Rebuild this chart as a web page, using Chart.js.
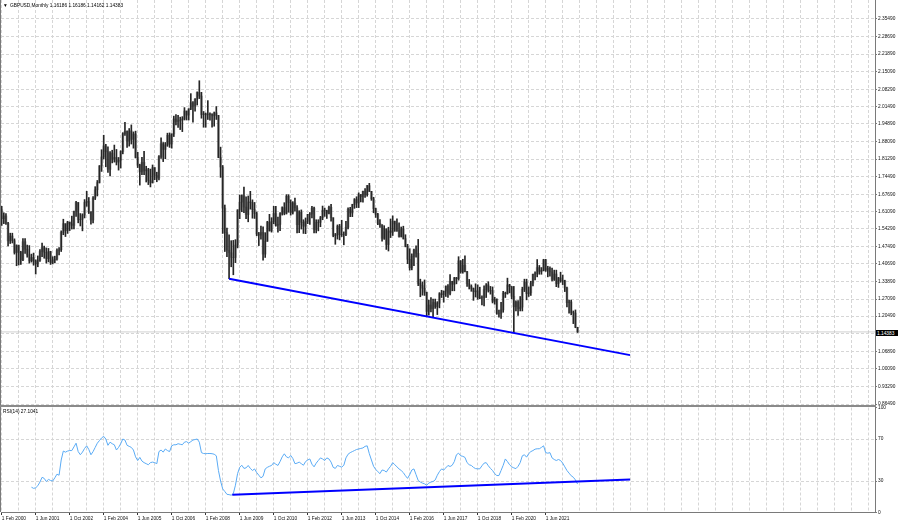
<!DOCTYPE html>
<html>
<head>
<meta charset="utf-8">
<script src="https://cdn.jsdelivr.net/npm/chart.js@4.4.1/dist/chart.umd.min.js"></script>
<style>
html,body{margin:0;padding:0;background:#fff;}
#wrap{position:relative;width:900px;height:523px;overflow:hidden;background:#fff;}
#wrap canvas{position:absolute;left:0;}
.lbl{position:absolute;font-family:"Liberation Sans",Arial,sans-serif;font-size:9.6px;line-height:12px;color:#000;white-space:nowrap;transform:scale(0.5);transform-origin:0 0;}
</style>
</head>
<body>
<div id="wrap">
<canvas id="main" width="900" height="406" style="top:0px"></canvas>
<canvas id="rsi" width="900" height="123" style="top:400px"></canvas>
<div style="position:absolute;left:0;top:0;width:1px;height:512px;background:#7a7a7a"></div>
<div style="position:absolute;left:0;top:405px;width:876px;height:2px;background:#8a8a8a"></div>
<div class="lbl" style="left:3px;top:2px">▼</div>
<div class="lbl" id="hdr" style="left:10px;top:2px"></div>
<div class="lbl" id="rsilbl" style="left:3px;top:408px"></div>
<div class="lbl" id="curlbl" style="left:876px;top:330px;width:44px;height:12px;background:#000;color:#fff;padding-left:2px;box-sizing:border-box"></div>
</div>
<script>
// ---- data (monthly GBPUSD bars, index 0 = Feb 2000) ----
const symbolTitle = 'GBPUSD,Monthly';
const opens = [
1.6170,1.5820,1.5930,1.5640,1.4960,1.5150,1.4970,1.4510,1.4780,1.4520,1.4230,1.4930,
1.4640,1.4420,1.4190,1.4320,1.4180,1.4070,1.4210,1.4550,1.4700,1.4520,1.4270,1.4550,
1.4120,1.4220,1.4250,1.4590,1.4620,1.5290,1.5630,1.5360,1.5690,1.5620,1.5560,1.6100,
1.6450,1.5780,1.5800,1.5960,1.6450,1.6490,1.6070,1.5770,1.6620,1.6940,1.7220,1.7860,
1.8210,1.8640,1.8410,1.7730,1.8360,1.8130,1.8190,1.8010,1.8080,1.8420,1.9110,1.9200,
1.8830,1.9220,1.8890,1.9100,1.8190,1.7890,1.7630,1.8000,1.7670,1.7720,1.7290,1.7210,
1.7800,1.7500,1.7390,1.8220,1.8720,1.8500,1.8670,1.9050,1.8710,1.9100,1.9680,1.9580,
1.9620,1.9640,1.9680,1.9990,1.9830,2.0070,2.0310,2.0180,2.0450,2.0710,2.0570,1.9850,
1.9880,1.9840,1.9850,1.9880,1.9800,1.9920,1.9820,1.8190,1.7820,1.6230,1.5280,1.4600,
1.4500,1.4320,1.4320,1.4800,1.6160,1.6460,1.6710,1.6270,1.5980,1.6470,1.6440,1.6170,
1.6020,1.5230,1.5180,1.5290,1.4450,1.4950,1.5690,1.5350,1.5710,1.6020,1.5560,1.5600,
1.6020,1.6250,1.6030,1.6690,1.6450,1.6060,1.6430,1.6240,1.5590,1.6070,1.5680,1.5530,
1.5720,1.5990,1.6000,1.6230,1.5400,1.5680,1.5680,1.5860,1.6150,1.6130,1.6030,1.6260,
1.5860,1.5170,1.5190,1.5530,1.5200,1.5210,1.5210,1.5490,1.6190,1.6040,1.6370,1.6560,
1.6430,1.6750,1.6670,1.6880,1.6750,1.7100,1.6880,1.6590,1.6210,1.5990,1.5640,1.5580,
1.5060,1.5430,1.4820,1.5350,1.5290,1.5720,1.5620,1.5370,1.5130,1.5430,1.5050,1.4740,
1.4250,1.3920,1.4360,1.4610,1.4480,1.3310,1.3230,1.3130,1.2970,1.2230,1.2480,1.2340,
1.2580,1.2410,1.2550,1.2920,1.2880,1.3020,1.3210,1.2930,1.3390,1.3280,1.3530,1.3500,
1.4190,1.3770,1.4020,1.3770,1.3300,1.3200,1.3120,1.2990,1.3030,1.2770,1.2750,1.2760,
1.3080,1.3260,1.3030,1.3040,1.2620,1.2700,1.2160,1.2160,1.2290,1.2940,1.2920,1.3260,
1.3190,1.2820,1.2410,1.2590,1.2340,1.2400,1.3090,1.3370,1.2920,1.2950,1.3330,1.3670,
1.3700,1.3930,1.3780,1.3820,1.4230,1.3830,1.3900,1.3760,1.3470,1.3680,1.3300,1.3530,
1.3420,1.3420,1.3140,1.2570,1.2600,1.2180,1.2170,1.16186];
const highs = [
1.6300,1.6050,1.6020,1.5680,1.5260,1.5260,1.5040,1.4810,1.4800,1.4560,1.5050,1.5050,
1.4800,1.4780,1.4450,1.4490,1.4230,1.4380,1.4630,1.4880,1.4760,1.4690,1.4670,1.4560,
1.4350,1.4370,1.4650,1.4700,1.5350,1.5800,1.5630,1.5720,1.5690,1.5920,1.6120,1.6490,
1.6450,1.6020,1.6010,1.6560,1.6880,1.6640,1.6100,1.6680,1.7060,1.7300,1.7880,1.8490,
1.9050,1.8700,1.8600,1.8420,1.8470,1.8670,1.8500,1.8190,1.8450,1.9150,1.9550,1.9220,
1.9310,1.9450,1.9180,1.9210,1.8390,1.7930,1.8200,1.8430,1.7850,1.7770,1.7740,1.7900,
1.7800,1.7620,1.8260,1.8950,1.8770,1.8770,1.9130,1.9140,1.9110,1.9790,1.9850,1.9820,
1.9750,1.9770,2.0120,1.9990,2.0080,2.0660,2.0350,2.0470,2.0730,2.1160,2.0710,1.9970,
1.9910,2.0390,1.9920,1.9880,1.9950,2.0160,1.9820,1.8590,1.7880,1.6350,1.5460,1.5200,
1.4970,1.4980,1.5010,1.6170,1.6740,1.6740,1.7040,1.6670,1.6700,1.6880,1.6550,1.6450,
1.6080,1.5290,1.5530,1.5510,1.5280,1.5720,1.5990,1.5860,1.6300,1.6300,1.5880,1.6060,
1.6280,1.6440,1.6750,1.6750,1.6550,1.6480,1.6620,1.6330,1.6130,1.6160,1.5780,1.5850,
1.5990,1.6060,1.6300,1.6270,1.5780,1.5780,1.5910,1.6310,1.6230,1.6150,1.6310,1.6380,
1.5860,1.5250,1.5580,1.5600,1.5760,1.5310,1.5720,1.6240,1.6260,1.6380,1.6600,1.6670,
1.6820,1.6760,1.6890,1.6990,1.7110,1.7190,1.6880,1.6650,1.6230,1.6030,1.5790,1.5590,
1.5550,1.5430,1.5490,1.5810,1.5930,1.5730,1.5820,1.5660,1.5500,1.5530,1.5200,1.4830,
1.4660,1.4460,1.4640,1.4770,1.5020,1.3480,1.3370,1.3450,1.2980,1.2670,1.2770,1.2710,
1.2710,1.2610,1.2960,1.3050,1.3020,1.3220,1.3270,1.3660,1.3400,1.3550,1.3550,1.4350,
1.4200,1.4250,1.4380,1.3780,1.3470,1.3260,1.3140,1.3300,1.3260,1.3170,1.2840,1.3220,
1.3310,1.3380,1.3200,1.3180,1.2780,1.2720,1.2280,1.2580,1.3010,1.2980,1.3520,1.3280,
1.3200,1.3200,1.2640,1.2650,1.2810,1.3170,1.3480,1.3480,1.3180,1.3400,1.3680,1.3760,
1.4240,1.4010,1.3930,1.4250,1.4250,1.3980,1.3960,1.3910,1.3830,1.3830,1.3550,1.3750,
1.3640,1.3440,1.3170,1.2670,1.2670,1.2250,1.2290,1.16186];
const lows = [
1.5560,1.5630,1.5600,1.4770,1.4860,1.4880,1.4450,1.4000,1.4030,1.4050,1.4200,1.4480,
1.4330,1.4100,1.4140,1.4020,1.3680,1.3960,1.4170,1.4350,1.4290,1.4100,1.4150,1.4050,
1.4070,1.4110,1.4220,1.4420,1.4550,1.5200,1.5130,1.5250,1.5360,1.5420,1.5420,1.5910,
1.5660,1.5540,1.5350,1.5850,1.6300,1.6020,1.5610,1.5660,1.6560,1.6700,1.7200,1.7650,
1.8130,1.7830,1.7610,1.7480,1.7980,1.8010,1.7900,1.7700,1.7780,1.8330,1.9040,1.8580,
1.8630,1.8710,1.8550,1.8170,1.7800,1.7120,1.7520,1.7520,1.7240,1.7140,1.7050,1.7200,
1.7330,1.7250,1.7320,1.8150,1.8030,1.8140,1.8620,1.8580,1.8550,1.9000,1.9450,1.9350,
1.9270,1.9190,1.9640,1.9640,1.9640,2.0040,1.9560,1.9980,2.0220,2.0470,1.9710,1.9360,
1.9360,1.9660,1.9630,1.9360,1.9400,1.9660,1.8180,1.7420,1.5250,1.4550,1.4350,1.3500,
1.3960,1.3650,1.4120,1.4690,1.5820,1.6090,1.6050,1.5820,1.5700,1.6190,1.5840,1.5830,
1.5160,1.4780,1.5030,1.4220,1.4320,1.4940,1.5340,1.5300,1.5620,1.5530,1.5300,1.5360,
1.5960,1.5970,1.6000,1.6070,1.5960,1.6000,1.6110,1.5270,1.5280,1.5420,1.5250,1.5240,
1.5630,1.5600,1.5850,1.5270,1.5270,1.5350,1.5510,1.5780,1.5910,1.5830,1.6010,1.5720,
1.5120,1.4830,1.5030,1.5000,1.5130,1.4810,1.5160,1.5420,1.5900,1.5900,1.6220,1.6250,
1.6250,1.6470,1.6460,1.6640,1.6690,1.6870,1.6530,1.6050,1.5870,1.5590,1.5480,1.4950,
1.5020,1.4630,1.4570,1.5090,1.5170,1.5330,1.5330,1.5110,1.5110,1.5030,1.4730,1.4080,
1.3830,1.3840,1.4000,1.4330,1.3230,1.2800,1.2860,1.2850,1.2040,1.2090,1.2210,1.1990,
1.2350,1.2110,1.2370,1.2770,1.2590,1.2810,1.2770,1.2870,1.3030,1.3030,1.3300,1.3440,
1.3710,1.3710,1.3760,1.3200,1.3100,1.3010,1.2660,1.2790,1.2700,1.2720,1.2480,1.2440,
1.2770,1.2980,1.2900,1.2560,1.2510,1.2120,1.2010,1.1960,1.2200,1.2770,1.2900,1.2950,
1.2720,1.1410,1.2250,1.2080,1.2250,1.2250,1.3000,1.2680,1.2810,1.2850,1.3220,1.3450,
1.3570,1.3670,1.3670,1.3800,1.3780,1.3570,1.3600,1.3410,1.3430,1.3190,1.3160,1.3360,
1.3270,1.3000,1.2410,1.2160,1.2100,1.1760,1.1600,1.14162];
const closes = [
1.5820,1.5930,1.5640,1.4960,1.5150,1.4970,1.4510,1.4780,1.4520,1.4230,1.4930,1.4640,
1.4420,1.4190,1.4320,1.4180,1.4070,1.4210,1.4550,1.4700,1.4520,1.4270,1.4550,1.4120,
1.4220,1.4250,1.4590,1.4620,1.5290,1.5630,1.5360,1.5690,1.5620,1.5560,1.6100,1.6450,
1.5780,1.5800,1.5960,1.6450,1.6490,1.6070,1.5770,1.6620,1.6940,1.7220,1.7860,1.8210,
1.8640,1.8410,1.7730,1.8360,1.8130,1.8190,1.8010,1.8080,1.8420,1.9110,1.9200,1.8830,
1.9220,1.8890,1.9100,1.8190,1.7890,1.7630,1.8000,1.7670,1.7720,1.7290,1.7210,1.7800,
1.7500,1.7390,1.8220,1.8720,1.8500,1.8670,1.9050,1.8710,1.9100,1.9680,1.9580,1.9620,
1.9640,1.9680,1.9990,1.9830,2.0070,2.0310,2.0180,2.0450,2.0710,2.0570,1.9850,1.9880,
1.9840,1.9850,1.9880,1.9800,1.9920,1.9820,1.8190,1.7820,1.6230,1.5280,1.4600,1.4500,
1.4320,1.4320,1.4800,1.6160,1.6460,1.6710,1.6270,1.5980,1.6470,1.6440,1.6170,1.6020,
1.5230,1.5180,1.5290,1.4450,1.4950,1.5690,1.5350,1.5710,1.6020,1.5560,1.5600,1.6020,
1.6250,1.6030,1.6690,1.6450,1.6060,1.6430,1.6240,1.5590,1.6070,1.5680,1.5530,1.5720,
1.5990,1.6000,1.6230,1.5400,1.5680,1.5680,1.5860,1.6150,1.6130,1.6030,1.6260,1.5860,
1.5170,1.5190,1.5530,1.5200,1.5210,1.5210,1.5490,1.6190,1.6040,1.6370,1.6560,1.6430,
1.6750,1.6670,1.6880,1.6750,1.7100,1.6880,1.6590,1.6210,1.5990,1.5640,1.5580,1.5060,
1.5430,1.4820,1.5350,1.5290,1.5720,1.5620,1.5370,1.5130,1.5430,1.5050,1.4740,1.4250,
1.3920,1.4360,1.4610,1.4480,1.3310,1.3230,1.3130,1.2970,1.2230,1.2480,1.2340,1.2580,
1.2410,1.2550,1.2920,1.2880,1.3020,1.3210,1.2930,1.3390,1.3280,1.3530,1.3500,1.4190,
1.3770,1.4020,1.3770,1.3300,1.3200,1.3120,1.2990,1.3030,1.2770,1.2750,1.2760,1.3080,
1.3260,1.3030,1.3040,1.2620,1.2700,1.2160,1.2160,1.2290,1.2940,1.2920,1.3260,1.3190,
1.2820,1.2410,1.2590,1.2340,1.2400,1.3090,1.3370,1.2920,1.2950,1.3330,1.3670,1.3700,
1.3930,1.3780,1.3820,1.4230,1.3830,1.3900,1.3760,1.3470,1.3680,1.3300,1.3530,1.3420,
1.3420,1.3140,1.2570,1.2600,1.2180,1.2170,1.1620,1.14383];

// RSI(14) values, first value at bar index 14
const rsiStart = 14;
const rsiValues = [
24.1,23,23.5,25.5,29,33.5,32.5,29.5,31.5,30.5,30,33,
36.5,35.5,50,58.5,57.5,58.5,59,59,62.5,66,58,55,
57.5,61,63.5,60,55,58,62,66,68.5,71,72.5,70,
64,67,65.5,64.5,59.5,62,65.5,70,69,64,63,62,
59.5,53,49.5,52.5,49,47.5,46.5,45.5,47.5,48,47.5,46.5,
58,59.5,57.5,60.5,59,58,63.5,64.5,64.5,65.5,65,64.5,
67,67.5,66,67.5,69,69.5,70,67,57,56.2,56,56.2,
56.2,56,55.5,54,40,30,22.5,20,17.3,17,16.5,18,
26,37,43,45,42,42.5,44.8,42,40,41.5,38,35.5,
33,34.5,41.5,43,44,44.8,47.5,46,44.8,48.5,53,55.9,
53,52,54.3,51.5,46.5,47,48,46.5,45,48.5,50,51,
46,43.5,47,49.5,52,51,49.5,52,51,48,43,42,
44.8,44,43.2,45,52,55.5,57,58,59,60,60.5,61,
61.5,63,63.5,56,50,44,41,39,37,40.5,40,38.5,
41.5,44,47.5,45.5,43.5,41.5,40,38,35,32.5,36,40.5,
41.5,36,30.5,29,28,27.3,26,28,29,29.5,31,35.5,
39,41.5,40.5,42.5,44.8,43.8,45,48.5,55,56.5,54,53.5,
52.5,47.5,45.5,44.8,43,41.8,41.6,41.6,44.5,47,47.5,44.5,
42,40,37,35.2,35.2,40,45,51,48.5,45.5,43.5,42.5,
41.8,44,47.5,54,55,52.7,56,58,59,60.3,60.7,60.7,
62,63.5,57,56.5,57,52,50.5,49.5,50.5,49.5,47,43.5,
40,37.5,35,33.6,31,27.1];
const rsiLastText = '27.1041';

// trend lines (bar index, value)
const priceTrendX = [107, 295.7];
const priceTrendY = [1.3500, 1.0540];
const rsiTrendX = [108.5, 295.7];
const rsiTrendY = [16.9, 31.4];

// axis tick labels
const xTickLabels = ['1 Feb 2000','1 Jun 2001','1 Oct 2002','1 Feb 2004','1 Jun 2005','1 Oct 2006','1 Feb 2008','1 Jun 2009','1 Oct 2010','1 Feb 2012','1 Jun 2013','1 Oct 2014','1 Feb 2016','1 Jun 2017','1 Oct 2018','1 Feb 2020','1 Jun 2021'];
const priceTickValues = [2.3549,2.2869,2.2189,2.1509,2.0829,2.0149,1.9489,1.8809,1.8129,1.7449,1.6769,1.6109,1.5429,1.4749,1.4069,1.3389,1.2709,1.2049,1.1369,1.0689,1.0009,0.9329,0.8649];
const priceTickLabels = ['2.35490','2.28690','2.21890','2.15090','2.08290','2.01490','1.94890','1.88090','1.81290','1.74490','1.67690','1.61090','1.54290','1.47490','1.40690','1.33890','1.27090','1.20490','','1.06890','1.00090','0.93290','0.86490'];
const rsiTickValues = [100,70,30,0];
const rsiTickLabels = ['100','70','30','0'];
const rsiGridLevels = [70,30];

// ---- layout constants ----
const X_MIN = -0.33, X_MAX = 410.97;
const Y_MIN = 0.85716, Y_MAX = 2.42843;
const GRID = '#d6d6d6';
const AXIS = '#7a7a7a';
const DASH = [3, 2];
const gridIdx = [];
for (let v = 0; v <= X_MAX; v += 8) gridIdx.push(v);
const labelFor = v => (v % 16 === 0 && v / 16 < xTickLabels.length) ? xTickLabels[v / 16] : '';

Chart.defaults.font.family = '"Liberation Sans", Arial, sans-serif';
Chart.defaults.font.size = 4.8;
Chart.defaults.color = '#111';

const n = opens.length;
const rangeData = [], bodyData = [];
for (let i = 0; i < n; i++) {
  rangeData.push({x: i, y: [lows[i], highs[i]]});
  bodyData.push({x: i, y: [Math.min(opens[i], closes[i]), Math.max(opens[i], closes[i])]});
}
const last = n - 1;
const curLine = [{x: X_MIN, y: closes[last]}, {x: X_MAX, y: closes[last]}];
const pTrend = priceTrendX.map((x, k) => ({x, y: priceTrendY[k]}));
const rTrend = rsiTrendX.map((x, k) => ({x, y: rsiTrendY[k]}));
const rsiData = rsiValues.map((v, k) => ({x: rsiStart + k, y: v}));

const fmt = v => v.toFixed(5);
document.getElementById('hdr').textContent = symbolTitle + ' ' + fmt(opens[last]) + ' ' + fmt(highs[last]) + ' ' + fmt(lows[last]) + ' ' + fmt(closes[last]);
document.getElementById('rsilbl').textContent = 'RSI(14) ' + rsiLastText;
document.getElementById('curlbl').textContent = fmt(closes[last]);

new Chart(document.getElementById('main'), {
  type: 'bar',
  data: {datasets: [
    {type: 'line', data: pTrend, borderColor: '#0000ff', borderWidth: 2, pointRadius: 0, tension: 0, order: 0},
    {type: 'bar', data: rangeData, backgroundColor: '#262626', barThickness: 1, grouped: false, order: 1},
    {type: 'bar', data: bodyData, backgroundColor: 'rgba(0,0,0,0.28)', barThickness: 2.2, grouped: false, order: 2},
    {type: 'line', data: curLine, borderColor: '#c4c4c4', borderWidth: 0.8, pointRadius: 0, order: 3}
  ]},
  options: {
    animation: false, responsive: false, events: [],
    layout: {padding: {left: 1, top: 0, right: 0, bottom: 0}},
    plugins: {legend: {display: false}, tooltip: {enabled: false}, title: {display: false}},
    scales: {
      x: {type: 'linear', min: X_MIN, max: X_MAX, offset: false,
        afterBuildTicks: s => { s.ticks = gridIdx.map(v => ({value: v})); },
        afterFit: s => { s.height = 0; s.paddingLeft = 0; s.paddingRight = 0; },
        ticks: {display: false},
        grid: {offset: false, color: GRID, lineWidth: 1, drawTicks: false},
        border: {display: false, dash: DASH}},
      y: {position: 'right', min: Y_MIN, max: Y_MAX, beginAtZero: false,
        afterBuildTicks: s => { s.ticks = priceTickValues.map(v => ({value: v})); },
        afterFit: s => { s.width = 25; s.paddingTop = 0; s.paddingBottom = 0; },
        ticks: {padding: 1, autoSkip: false, callback: (v, i) => priceTickLabels[i]},
        grid: {color: GRID, tickColor: AXIS, tickLength: 2, tickBorderDash: []},
        border: {display: true, color: AXIS, width: 1, dash: DASH}}
    }
  }
});

new Chart(document.getElementById('rsi'), {
  type: 'line',
  data: {datasets: [
    {data: rTrend, borderColor: '#0000ff', borderWidth: 2, pointRadius: 0, tension: 0, order: 0},
    {data: rsiData, borderColor: '#5aabf5', borderWidth: 1, pointRadius: 0, tension: 0, order: 1}
  ]},
  options: {
    animation: false, responsive: false, events: [],
    layout: {padding: {left: 1, top: 7.5, right: 0, bottom: 0}},
    plugins: {legend: {display: false}, tooltip: {enabled: false}},
    scales: {
      x: {type: 'linear', min: X_MIN, max: X_MAX, offset: false,
        afterBuildTicks: s => { s.ticks = gridIdx.map(v => ({value: v})); },
        afterFit: s => { s.height = 10.5; s.paddingLeft = 0; s.paddingRight = 0; },
        ticks: {autoSkip: false, maxRotation: 0, minRotation: 0, align: 'start', padding: 0.5,
          callback: (v, i) => labelFor(gridIdx[i])},
        grid: {offset: false, color: GRID, tickLength: 2.5, tickBorderDash: [],
          tickColor: c => (labelFor(gridIdx[c.index] ?? -1) !== '') ? '#333' : 'rgba(0,0,0,0)'},
        border: {display: true, color: AXIS, width: 1, dash: DASH}},
      y: {position: 'right', min: 0, max: 100,
        afterBuildTicks: s => { s.ticks = rsiTickValues.map(v => ({value: v})); },
        afterFit: s => { s.width = 25; s.paddingTop = 0; s.paddingBottom = 0; },
        ticks: {padding: 1, autoSkip: false, callback: (v, i) => rsiTickLabels[i]},
        grid: {color: c => (c.tick && rsiGridLevels.includes(c.tick.value)) ? GRID : 'rgba(0,0,0,0)',
          tickColor: AXIS, tickLength: 2, tickBorderDash: []},
        border: {display: true, color: AXIS, width: 1, dash: DASH}}
    }
  }
});
</script>
</body>
</html>
